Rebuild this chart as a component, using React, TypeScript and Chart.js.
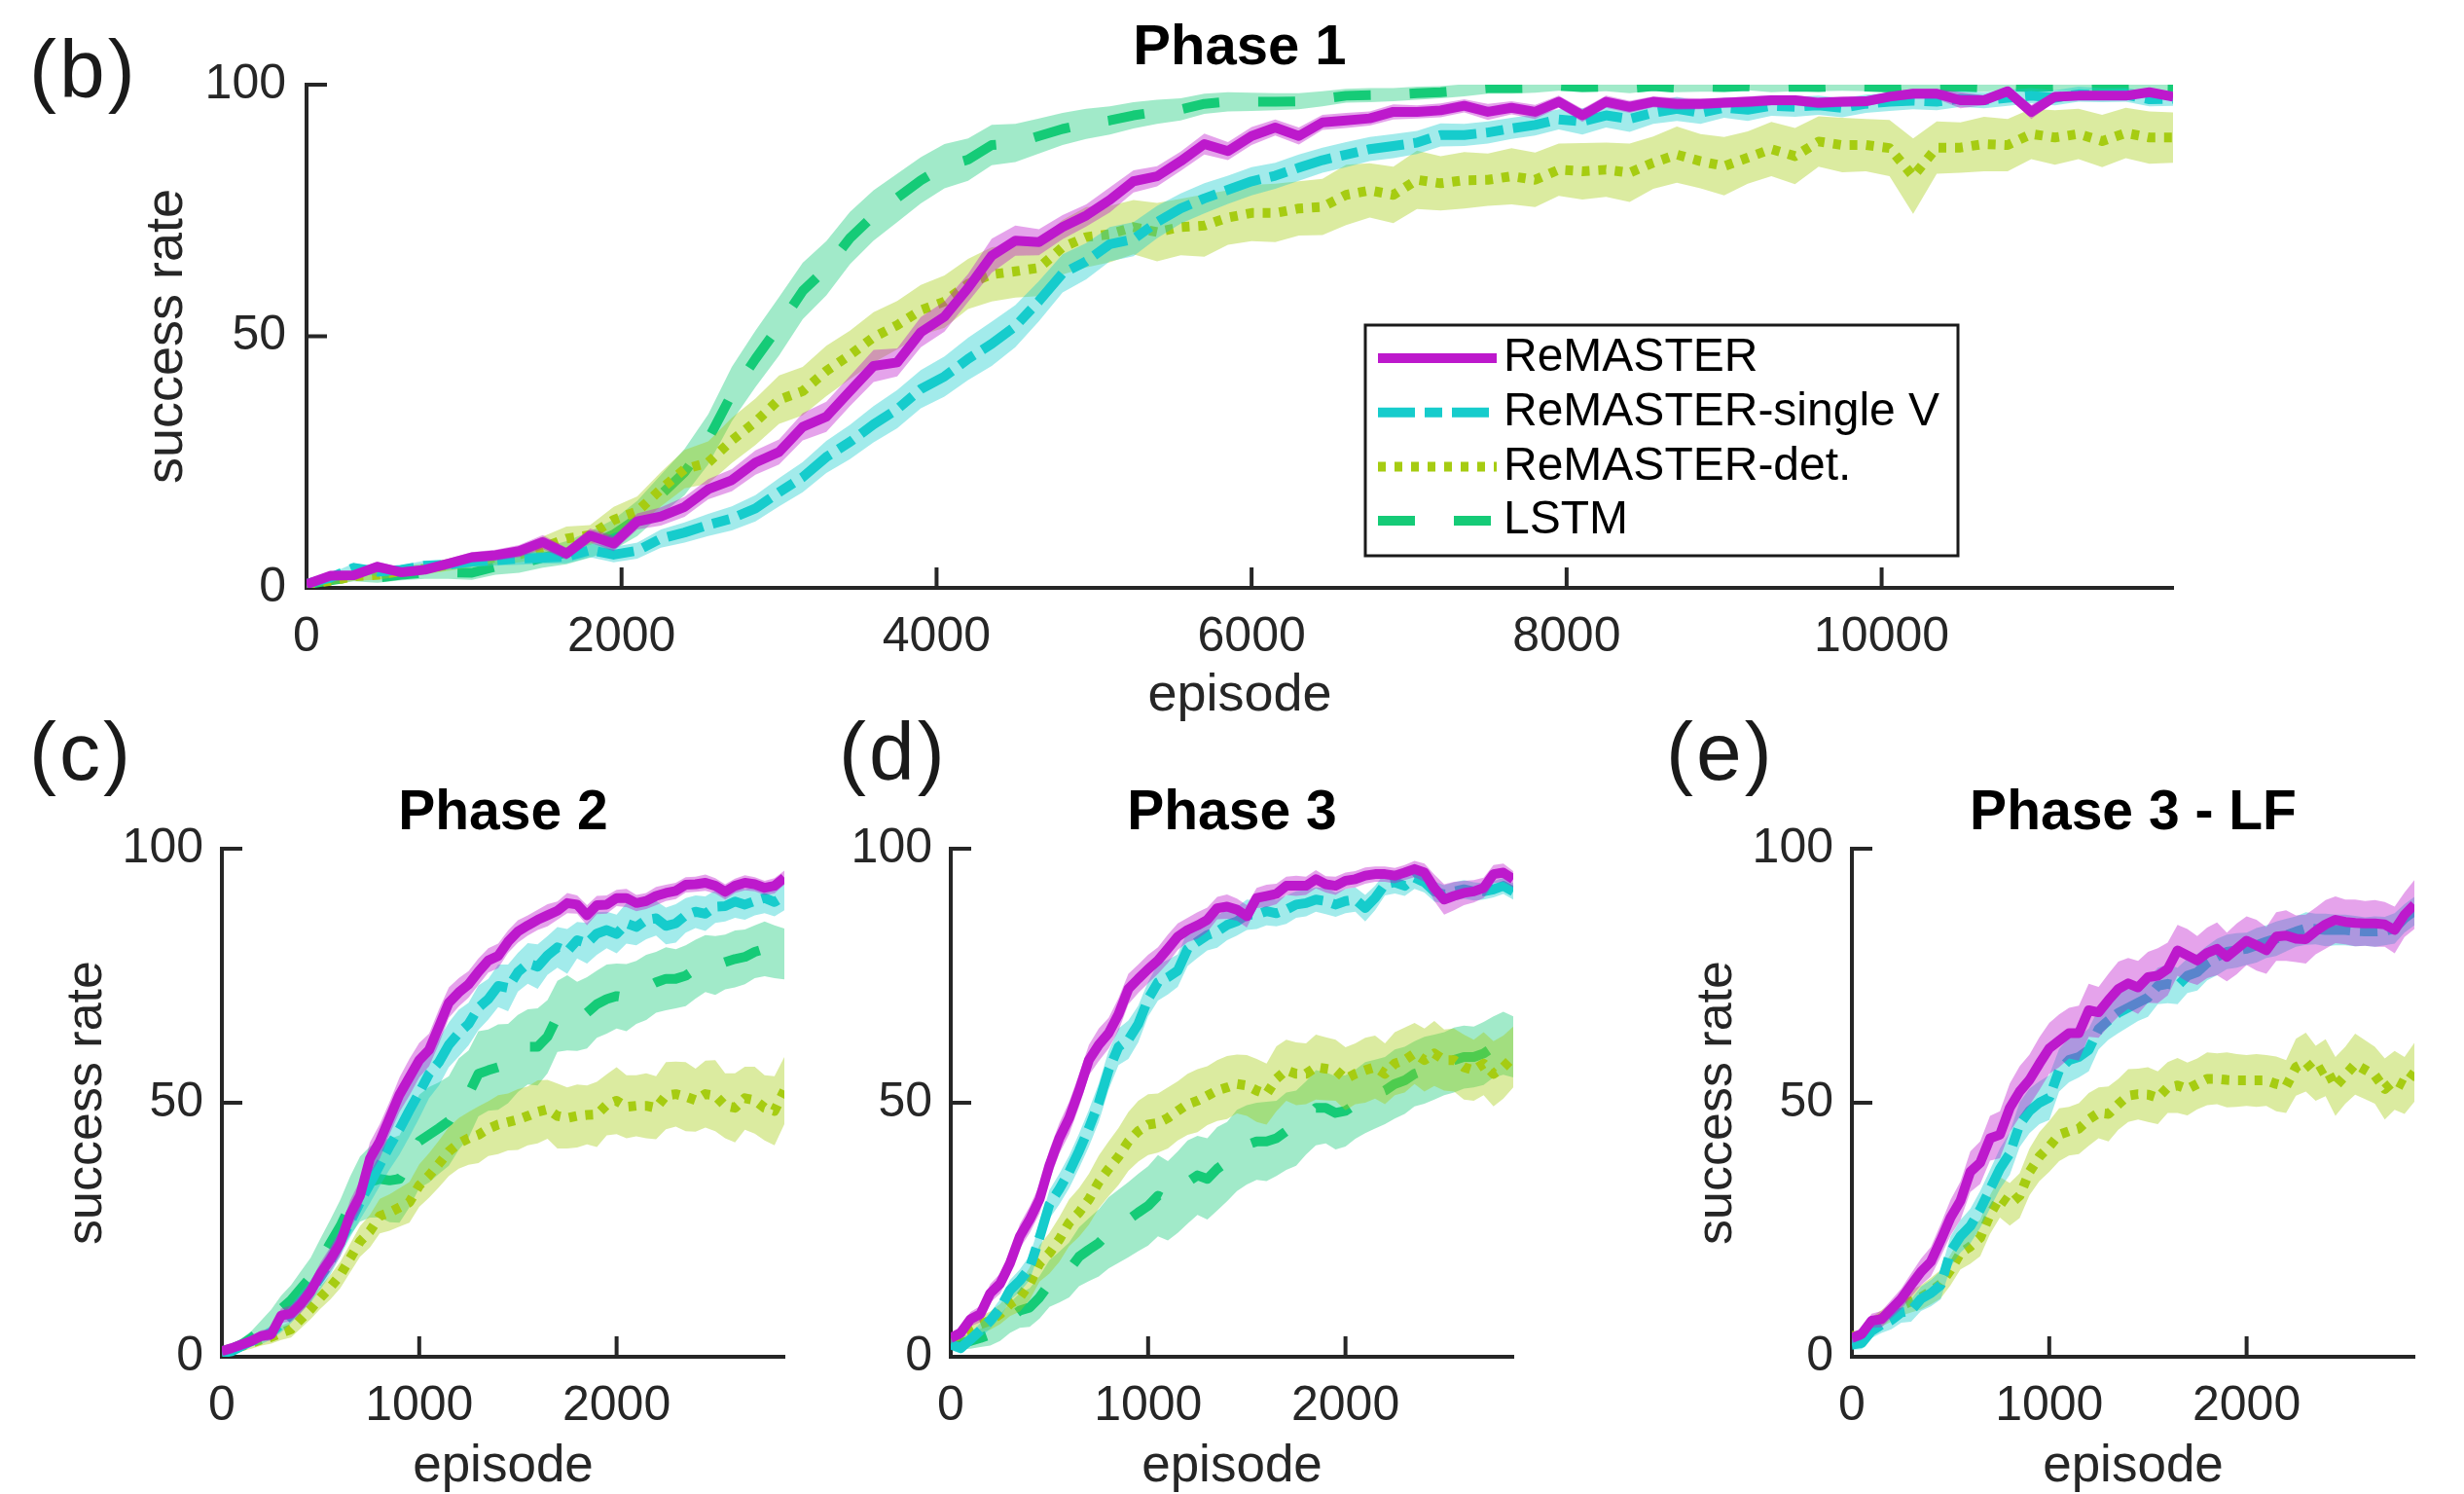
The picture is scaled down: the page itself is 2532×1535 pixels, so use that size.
import React, { useEffect, useRef } from 'react';
import { Chart, registerables } from 'chart.js';

Chart.register(...registerables);

const FONT_FAMILY = "'Liberation Sans', Arial, Helvetica, sans-serif";
const AXIS_COLOR = '#262626';
const TEXT_COLOR = '#000000';

const SERIES_LABELS = ['ReMASTER', 'ReMASTER-single V', 'ReMASTER-det.', 'LSTM'];
const SERIES_COLORS = ['#BD19CC', '#16CCCC', '#A6CC12', '#15CB77'];
const BAND_COLORS = [
  'rgba(189, 25, 204, 0.4)',
  'rgba(22, 204, 204, 0.4)',
  'rgba(166, 204, 18, 0.4)',
  'rgba(21, 203, 119, 0.4)',
];
const SERIES_DASHES = [[], [38, 10, 18, 10], [8, 9], [38, 40]];
const LINE_WIDTH = 10;

const Y_TICKS = [0, 50, 100];

// ---------------- Phase 1 (episodes 0..11850, every 150) ----------------
const P1_STEP = 150;
const P1_X_MAX = 11850;
const P1_X_TICKS = [0, 2000, 4000, 6000, 8000, 10000];

const P1_REMASTER = [
  0.7, 2.4, 2.5, 4.2, 3.1, 3.6, 4.8, 6.1, 6.5, 7.3,
  9.1, 6.8, 10.4, 8.8, 13.2, 14.2, 16.1, 19.6, 21.4, 24.9,
  27.0, 32.0, 34.0, 39.1, 44.1, 44.8, 50.8,
  53.9, 59.6, 66.0, 69.0, 68.7, 71.7, 74.0, 77.1, 80.8, 81.8,
  84.8, 88.2, 86.8, 89.8, 91.5, 89.8, 92.5, 92.9, 93.3, 94.6,
  94.6, 94.9, 95.8, 94.6, 95.4, 94.6, 96.6,
  93.9, 96.6, 95.6, 96.6, 96.2, 96.2, 96.4, 96.6, 96.9, 96.9,
  96.4, 96.6, 96.7, 97.6, 98.2, 98.2, 96.9, 96.9, 98.7, 94.6,
  97.6, 97.8, 97.8, 97.8, 98.5, 97.6,
];
const P1_REMASTER_BAND = [
  0.6, 0.7, 0.8, 1.0, 0.9, 0.9, 1.0, 1.0, 1.1, 1.2,
  1.4, 1.2, 1.4, 1.5, 1.6, 1.8, 2.0, 2.0, 2.2, 2.4,
  2.5, 2.7, 3.0, 3.0, 3.2, 2.8, 3.0,
  3.0, 2.8, 3.4, 3.0, 2.6, 2.4, 2.2, 2.5, 2.2, 2.0,
  1.9, 2.1, 1.8, 1.8, 1.6, 1.7, 1.5, 1.5, 1.4, 1.5,
  1.3, 1.4, 1.3, 1.6, 1.3, 1.4, 1.2,
  1.3, 1.2, 1.2, 1.1, 1.2, 1.1, 1.0, 1.1, 1.0, 1.0,
  1.1, 1.0, 1.0, 0.9, 1.0, 1.0, 1.6, 1.0, 0.9, 1.4,
  1.0, 0.9, 0.9, 0.9, 0.8, 0.9,
];
const P1_SINGLEV = [
  0.8, 2.0, 4.0, 3.2, 3.6, 4.4, 4.6, 5.2, 5.5, 5.8,
  6.0, 6.2, 7.5, 6.6, 7.4, 9.8, 11.0, 12.5, 13.8, 15.8,
  19.0, 22.0, 26.0, 29.0, 32.5, 35.5, 39.5,
  42.0, 45.5, 48.5, 52.0, 57.0, 62.5, 64.9, 68.3, 69.3, 72.7,
  75.4, 77.4, 79.1, 80.8, 81.9, 83.5, 85.0, 86.1, 87.2, 87.8,
  88.5, 90.0, 90.0, 90.5, 91.3, 92.0, 93.1,
  92.7, 93.9, 93.2, 94.4, 95.2, 94.4, 95.4, 95.0, 95.8, 95.6,
  95.9, 95.4, 96.2, 96.6, 96.8, 96.6, 97.2, 96.9, 97.4, 97.8,
  97.4, 98.1, 97.9, 98.0, 97.1, 97.2,
];
const P1_SINGLEV_BAND = [
  0.7, 0.8, 0.9, 0.9, 0.9, 1.0, 1.0, 1.1, 1.1, 1.2,
  1.2, 1.3, 1.4, 1.5, 1.6, 1.8, 2.0, 2.2, 2.4, 2.6,
  2.8, 3.0, 3.2, 3.4, 3.6, 3.8, 3.8,
  4.0, 4.2, 4.4, 4.2, 4.0, 3.8, 3.6, 3.4, 3.4, 3.2,
  3.0, 3.0, 2.8, 2.8, 2.6, 2.6, 2.5, 2.5, 2.4, 2.4,
  2.3, 2.3, 2.2, 2.2, 2.1, 2.1, 2.0,
  2.6, 2.4, 2.6, 2.2, 2.4, 2.2, 2.0, 2.2, 2.0, 2.0,
  1.9, 1.9, 1.8, 1.8, 1.7, 1.7, 1.6, 1.6, 1.6, 1.5,
  1.5, 1.5, 1.4, 1.4, 1.4, 1.4,
];
const P1_DET = [
  0.7, 1.4, 2.3, 2.6, 3.3, 3.8, 4.6, 5.4, 6.0, 6.6,
  8.0, 9.8, 10.5, 13.5, 15.2, 19.6, 23.6, 24.9, 29.3, 33.0,
  37.4, 39.1, 43.1, 46.3, 49.8, 52.2, 55.2,
  56.9, 60.4, 62.3, 62.9, 63.6, 67.7, 69.7, 70.3, 71.7, 70.7,
  71.7, 72.0, 73.6, 74.5, 74.5, 75.4, 75.7, 78.1, 79.0, 78.1,
  81.1, 80.4, 81.0, 81.1, 81.8, 81.1, 83.1,
  82.8, 83.1, 82.5, 84.5, 86.1, 84.8, 83.8, 85.5, 87.2, 85.8,
  88.7, 88.0, 88.0, 87.4, 81.8, 87.5, 87.5, 88.2, 88.0, 90.2,
  89.5, 90.2, 88.8, 90.4, 89.5, 89.5,
];
const P1_DET_BAND = [
  0.7, 0.8, 0.9, 1.0, 1.0, 1.1, 1.2, 1.3, 1.4, 1.5,
  2.2, 2.4, 2.0, 2.6, 3.0, 3.4, 3.8, 4.2, 4.5, 4.6,
  4.8, 4.8, 5.0, 4.8, 5.0, 4.8, 5.0,
  5.2, 5.0, 5.4, 5.2, 5.6, 5.4, 6.0, 5.6, 5.4, 5.8,
  5.6, 6.2, 5.4, 5.6, 5.8, 5.4, 5.6, 6.0, 5.4, 5.6,
  5.8, 5.4, 5.6, 5.2, 5.6, 5.4, 5.2,
  5.6, 5.4, 5.8, 5.2, 5.6, 5.4, 5.8, 5.2, 5.4, 5.6,
  5.0, 5.4, 5.2, 5.6, 7.5, 5.2, 5.0, 5.4, 5.2, 5.0,
  5.4, 5.0, 5.2, 5.0, 5.2, 5.0,
];
const P1_LSTM = [
  0.7, 1.5, 2.2, 2.0, 2.6, 3.0, 3.1, 3.0, 4.2, 4.8,
  6.0, 7.0, 8.6, 10.6, 13.8, 18.5, 23.0, 29.5, 38.5, 45.5,
  52.0, 59.0, 63.5, 69.5, 74.0, 77.5, 81.0,
  83.8, 85.1, 88.0, 88.4, 89.8, 91.2, 92.2, 92.9, 93.9, 94.6,
  95.1, 96.2, 96.6, 96.6, 96.6, 96.7, 97.2, 97.8, 97.9, 98.0,
  98.3, 98.5, 98.9, 99.3, 99.3, 99.4, 99.8,
  99.5, 99.6, 99.3, 99.7, 99.4, 99.6, 99.5, 99.7, 99.4, 99.6,
  99.5, 99.7, 99.6, 99.4, 99.7, 99.5, 99.6, 99.4, 99.7, 99.5,
  99.6, 99.4, 99.7, 99.5, 99.6, 99.5,
];
const P1_LSTM_BAND = [
  0.7, 0.8, 0.9, 1.0, 1.1, 1.2, 1.3, 1.4, 1.6, 1.8,
  2.0, 2.3, 2.6, 3.0, 3.5, 4.0, 4.6, 5.0, 5.4, 5.6,
  5.8, 5.6, 5.4, 5.2, 5.0, 4.8, 4.6,
  4.4, 4.2, 4.0, 3.8, 3.5, 3.2, 3.0, 2.8, 2.6, 2.4,
  2.2, 2.0, 1.9, 1.8, 1.7, 1.6, 1.5, 1.4, 1.4, 1.3,
  1.3, 1.2, 1.2, 1.1, 1.1, 1.0, 1.0,
  1.0, 0.9, 1.0, 0.9, 0.9, 1.0, 0.9, 0.8, 0.9, 0.9,
  0.8, 0.9, 0.9, 0.8, 0.9, 0.8, 0.9, 0.8, 0.8, 0.9,
  0.8, 0.8, 0.9, 0.8, 0.8, 0.8,
];

// ---------------- Phases 2, 3, 3-LF (episodes 0..2850, every 50) ----------------
const SHORT_STEP = 50;
const SHORT_X_MAX = 2850;
const SHORT_X_TICKS = [0, 1000, 2000];

const P2_REMASTER = [
  1.1, 1.7, 2.4, 3.1, 4.1, 4.4, 8.1, 8.5, 10.4, 12.9,
  16.4, 19.2, 22.4, 28.0, 31.7, 39.0, 42.4, 47.0, 51.6, 55.0,
  58.4, 60.4, 65.0, 69.7, 71.7, 73.3, 75.8, 78.0, 78.9, 81.7,
  83.7, 84.9, 86.0, 86.9, 87.8, 89.3, 89.0, 86.9, 88.9, 89.0,
  90.3, 90.3, 89.3, 89.7, 90.7, 91.3, 91.7, 92.9, 93.0, 93.3,
  92.7, 91.5, 92.7, 93.3, 93.0, 92.3, 92.7, 94.3,
];
const P2_REMASTER_BAND = [
  0.8, 0.9, 1.0, 1.0, 1.1, 1.2, 1.4, 1.6, 1.8, 2.0,
  2.2, 2.4, 2.6, 2.8, 3.0, 3.2, 3.4, 3.2, 3.4, 3.6,
  3.4, 3.2, 3.4, 3.0, 2.8, 2.6, 2.6, 2.4, 2.4, 2.2,
  2.2, 2.0, 2.0, 2.2, 1.8, 2.0, 1.8, 2.0, 1.8, 1.8,
  1.6, 1.8, 1.6, 1.6, 1.8, 1.6, 1.6, 1.5, 1.5, 1.6,
  1.5, 1.5, 1.4, 1.5, 1.4, 1.4, 1.5, 1.4,
];
const P2_SINGLEV = [
  0.7, 1.1, 2.1, 3.1, 3.7, 4.8, 6.4, 8.4, 10.7, 12.9,
  15.7, 18.8, 22.6, 26.5, 30.4, 34.0, 37.8, 41.5, 44.8, 48.5,
  52.0, 55.7, 58.0, 61.4, 63.7, 65.5, 68.7, 70.4, 73.0, 72.6,
  75.7, 77.4, 76.8, 79.0, 80.6, 79.8, 82.0, 81.4, 83.3, 84.0,
  83.2, 85.3, 84.6, 86.0, 86.3, 84.8, 85.3, 86.9, 87.6, 87.2,
  88.6, 88.7, 89.6, 89.0, 89.7, 90.3, 89.5, 90.7,
];
const P2_SINGLEV_BAND = [
  0.8, 0.9, 1.0, 1.1, 1.2, 1.4, 1.6, 1.8, 2.0, 2.2,
  2.4, 2.6, 2.8, 3.0, 3.4, 3.8, 4.2, 4.6, 5.0, 5.2,
  5.0, 4.8, 4.6, 4.4, 4.6, 4.2, 4.4, 4.0, 4.2, 4.6,
  3.8, 4.0, 4.4, 3.8, 4.0, 4.4, 3.6, 4.0, 4.2, 3.6,
  3.8, 4.0, 3.6, 3.8, 3.4, 3.6, 3.8, 3.4, 3.2, 3.4,
  3.2, 3.0, 3.2, 3.0, 2.8, 3.0, 2.8, 2.8,
];
const P2_DET = [
  1.1, 1.4, 2.1, 2.7, 3.4, 3.9, 4.7, 5.4, 7.4, 9.4,
  11.7, 13.7, 16.1, 19.4, 22.7, 24.7, 27.7, 28.4, 29.4, 30.4,
  33.7, 35.7, 38.0, 40.4, 42.0, 43.0, 43.7, 44.9, 45.7, 46.2,
  46.7, 47.4, 48.2, 48.7, 47.4, 47.0, 47.4, 47.6, 47.7, 49.6,
  50.4, 49.2, 49.4, 49.4, 49.0, 51.4, 51.7, 51.2, 50.5, 51.7,
  51.4, 49.4, 49.0, 50.9, 50.5, 49.0, 48.4, 52.4,
];
const P2_DET_BAND = [
  0.8, 0.9, 1.0, 1.1, 1.2, 1.3, 1.4, 1.6, 1.8, 2.0,
  2.2, 2.4, 2.6, 2.8, 3.0, 3.2, 3.4, 3.6, 3.8, 4.0,
  4.2, 4.4, 4.6, 4.8, 5.0, 5.2, 5.6, 5.4, 5.8, 5.6,
  6.0, 5.8, 6.2, 5.8, 6.4, 6.0, 6.2, 5.8, 6.4, 6.0,
  6.6, 6.2, 6.0, 6.4, 6.2, 6.6, 6.4, 6.8, 6.2, 6.6,
  7.0, 6.4, 6.8, 6.2, 6.6, 6.4, 6.8, 6.6,
];
const P2_LSTM = [
  1.1, 1.6, 2.4, 3.7, 5.4, 7.1, 9.4, 11.1, 13.4, 15.7,
  19.1, 22.4, 25.7, 29.7, 33.0, 34.4, 35.0, 34.7, 35.0, 38.4,
  42.4, 43.7, 45.0, 46.4, 49.7, 51.7, 55.7, 56.4, 57.0, 57.7,
  59.7, 61.0, 61.0, 63.0, 67.0, 67.7, 67.0, 67.7, 69.4, 70.4,
  71.0, 70.7, 71.7, 72.7, 73.7, 74.4, 74.4, 75.0, 76.3, 77.4,
  77.0, 77.7, 78.3, 78.7, 79.7, 80.3, 79.7, 79.3,
];
const P2_LSTM_BAND = [
  0.8, 1.0, 1.2, 1.4, 1.8, 2.2, 2.6, 3.0, 3.4, 3.8,
  4.2, 4.6, 5.2, 5.8, 6.4, 7.0, 7.6, 8.2, 8.6, 9.0,
  9.2, 9.4, 9.0, 8.8, 9.0, 8.6, 8.4, 8.0, 8.4, 7.8,
  7.6, 7.4, 7.6, 7.2, 7.0, 7.4, 6.8, 7.0, 6.6, 6.8,
  6.4, 6.6, 6.2, 6.4, 6.0, 6.2, 5.8, 6.0, 5.8, 5.6,
  5.8, 5.4, 5.6, 5.4, 5.2, 5.4, 5.2, 5.0,
];

const P3_REMASTER = [
  3.7, 4.7, 7.4, 8.4, 12.5, 14.4, 18.4, 23.7, 27.0, 31.0,
  37.7, 43.0, 47.0, 52.4, 58.4, 61.4, 63.7, 67.4, 72.4, 74.4,
  76.3, 78.0, 80.3, 82.7, 84.0, 84.9, 86.0, 88.3, 88.6, 88.0,
  86.7, 90.3, 90.7, 91.1, 92.7, 92.7, 92.7, 94.0, 93.0, 92.7,
  93.7, 94.0, 94.7, 95.0, 95.0, 94.7, 95.3, 96.0, 95.3, 92.3,
  90.0, 90.7, 91.3, 91.6, 92.3, 95.0, 95.3, 94.0,
];
const P3_REMASTER_BAND = [
  1.0, 1.2, 1.4, 1.6, 1.8, 2.0, 2.2, 2.4, 2.6, 2.8,
  3.0, 3.0, 3.2, 3.2, 3.0, 3.2, 3.0, 3.2, 3.0, 2.8,
  2.8, 2.6, 2.8, 2.6, 2.4, 2.6, 2.4, 2.2, 2.4, 2.2,
  2.2, 2.0, 2.2, 2.0, 1.8, 2.0, 1.8, 1.8, 1.6, 1.8,
  1.6, 1.6, 1.6, 1.5, 1.5, 1.5, 1.5, 1.6, 1.8, 2.6,
  3.0, 2.8, 2.4, 2.2, 2.0, 1.8, 1.8, 1.6,
];
const P3_SINGLEV = [
  2.4, 1.7, 3.4, 5.2, 7.1, 9.5, 13.1, 15.0, 17.5, 23.5,
  30.0, 33.0, 36.4, 40.5, 45.0, 50.0, 56.4, 61.0, 62.4, 65.5,
  70.4, 73.7, 74.7, 76.0, 80.3, 81.7, 83.0, 83.7, 85.0, 85.7,
  87.0, 87.0, 87.7, 87.3, 88.0, 89.0, 89.3, 90.0, 89.7, 89.0,
  89.7, 90.0, 88.3, 90.3, 93.0, 93.4, 92.7, 94.3, 93.4, 91.6,
  91.0, 91.6, 92.0, 91.6, 91.6, 92.0, 92.7, 91.6,
];
const P3_SINGLEV_BAND = [
  1.0, 1.1, 1.2, 1.4, 1.6, 1.8, 2.0, 2.2, 2.4, 2.6,
  2.8, 3.0, 3.2, 3.4, 3.6, 3.8, 3.8, 3.6, 3.8, 3.6,
  3.4, 3.6, 3.4, 3.2, 3.4, 3.2, 3.0, 3.2, 3.0, 2.8,
  3.0, 2.8, 2.8, 2.6, 2.8, 2.6, 2.6, 2.4, 2.6, 2.4,
  2.4, 2.4, 2.6, 2.4, 2.2, 2.2, 2.0, 2.2, 2.0, 2.0,
  1.8, 1.8, 1.8, 1.8, 1.6, 1.6, 1.6, 1.6,
];
const P3_DET = [
  3.7, 4.3, 5.4, 6.4, 7.1, 8.4, 10.4, 11.7, 14.4, 18.4,
  20.4, 23.1, 26.4, 28.4, 31.0, 34.4, 37.0, 39.4, 42.4, 44.4,
  45.7, 46.0, 47.0, 48.4, 49.7, 50.4, 51.4, 52.4, 53.0, 53.7,
  53.4, 52.4, 51.7, 54.7, 56.4, 55.7, 55.7, 57.0, 56.7, 56.4,
  54.7, 55.7, 56.4, 57.0, 55.7, 57.7, 58.4, 59.7, 58.4, 59.7,
  58.4, 58.4, 57.0, 56.4, 57.7, 55.7, 57.0, 59.0,
];
const P3_DET_BAND = [
  1.0, 1.2, 1.4, 1.6, 1.8, 2.0, 2.4, 2.8, 3.2, 3.6,
  4.0, 4.4, 4.6, 4.8, 5.0, 5.2, 5.4, 5.6, 5.8, 6.0,
  6.0, 5.8, 6.0, 5.8, 6.0, 6.2, 5.8, 6.0, 6.2, 5.8,
  6.0, 6.2, 6.0, 6.4, 6.0, 6.2, 6.0, 6.4, 6.2, 6.0,
  6.2, 6.0, 6.4, 6.2, 6.0, 6.2, 6.4, 6.0, 6.2, 6.4,
  6.0, 6.2, 6.4, 6.0, 6.2, 6.4, 6.2, 6.0,
];
const P3_LSTM = [
  3.1, 2.7, 3.1, 3.7, 4.4, 5.7, 7.7, 9.1, 9.7, 11.7,
  14.4, 15.7, 17.1, 19.7, 21.1, 22.4, 24.4, 25.7, 27.0, 28.4,
  29.7, 31.7, 30.7, 32.4, 34.4, 35.7, 35.0, 37.0, 38.4, 40.6,
  41.7, 42.4, 42.4, 43.0, 44.4, 45.0, 47.0, 49.0, 49.0, 48.0,
  48.4, 49.7, 51.0, 51.7, 52.4, 53.7, 54.4, 55.7, 56.4, 57.0,
  57.7, 58.4, 59.0, 59.0, 59.7, 61.0, 61.7, 61.0,
];
const P3_LSTM_BAND = [
  1.0, 1.2, 1.5, 1.8, 2.2, 2.6, 3.0, 3.4, 3.8, 4.2,
  4.6, 5.0, 5.4, 5.8, 6.2, 6.6, 7.0, 7.2, 7.4, 7.6,
  7.8, 8.0, 7.8, 8.0, 8.2, 7.8, 8.0, 8.2, 7.8, 8.0,
  7.8, 7.6, 7.8, 7.4, 7.6, 7.4, 7.2, 7.4, 7.0, 7.2,
  7.0, 6.8, 7.0, 6.8, 6.6, 6.8, 6.6, 6.4, 6.6, 6.4,
  6.2, 6.4, 6.2, 6.0, 6.2, 6.0, 6.2, 6.0,
];

const P4_REMASTER = [
  3.7, 4.5, 7.1, 7.4, 9.4, 11.4, 14.1, 16.7, 18.7, 22.9,
  27.4, 30.7, 36.4, 38.2, 43.0, 43.7, 49.0, 52.2, 54.5, 57.7,
  60.7, 62.2, 63.7, 63.7, 68.2, 67.8, 70.2, 72.4, 73.5, 72.7,
  74.7, 75.0, 76.3, 80.0, 79.0, 78.0, 79.5, 80.3, 78.7, 80.3,
  81.9, 81.0, 80.0, 82.7, 82.9, 82.3, 82.2, 83.8, 85.1, 86.0,
  85.6, 85.4, 85.3, 85.3, 85.1, 84.0, 87.0, 89.0,
];
const P4_REMASTER_BAND = [
  1.0, 1.2, 1.4, 1.6, 1.8, 2.0, 2.3, 2.6, 2.9, 3.2,
  3.5, 3.8, 4.0, 4.2, 4.4, 4.6, 4.8, 5.0, 5.0, 5.2,
  5.0, 5.2, 5.0, 5.4, 5.2, 5.0, 5.2, 5.4, 5.0, 5.2,
  5.0, 5.4, 5.2, 5.0, 5.2, 4.8, 5.0, 5.2, 4.8, 5.0,
  4.8, 5.0, 4.6, 4.8, 5.0, 4.6, 4.8, 4.6, 4.8, 4.6,
  4.4, 4.6, 4.4, 4.6, 4.4, 4.6, 4.4, 4.8,
];
const P4_SINGLEV = [
  2.4, 2.7, 5.1, 6.3, 7.2, 8.7, 9.1, 11.4, 12.5, 14.1,
  20.7, 23.7, 25.7, 29.0, 33.0, 37.0, 40.0, 45.7, 48.4, 50.0,
  51.0, 56.4, 58.4, 59.0, 60.4, 64.5, 66.2, 67.7, 68.7, 69.7,
  70.7, 73.0, 73.4, 73.0, 75.0, 75.7, 77.5, 78.7, 79.7, 80.0,
  80.3, 81.0, 81.7, 82.3, 83.0, 83.7, 84.3, 84.2, 84.0, 84.0,
  84.0, 83.8, 83.7, 83.7, 83.8, 84.3, 86.3, 87.7,
];
const P4_SINGLEV_BAND = [
  1.0, 1.2, 1.4, 1.6, 1.8, 2.0, 2.2, 2.4, 2.6, 2.8,
  3.0, 3.2, 3.4, 3.6, 3.8, 4.0, 4.2, 4.4, 4.4, 4.2,
  4.4, 4.2, 4.4, 4.0, 4.2, 4.0, 3.8, 4.0, 3.8, 3.6,
  3.8, 3.6, 3.8, 3.6, 3.4, 3.6, 3.4, 3.6, 3.4, 3.4,
  3.2, 3.4, 3.2, 3.4, 3.2, 3.0, 3.2, 3.0, 3.2, 3.0,
  3.0, 3.0, 2.8, 3.0, 2.8, 3.0, 2.8, 2.8,
];
const P4_DET = [
  4.1, 3.9, 6.4, 7.6, 8.7, 10.1, 10.9, 11.7, 12.9, 14.3,
  17.1, 20.4, 21.7, 23.4, 28.0, 31.4, 30.0, 31.7, 36.4, 39.4,
  41.4, 43.7, 44.4, 44.9, 46.7, 48.0, 47.8, 49.7, 51.4, 51.7,
  51.6, 51.0, 53.0, 53.4, 52.7, 53.7, 54.7, 54.7, 54.5, 54.4,
  54.4, 54.4, 54.4, 53.7, 53.2, 57.0, 58.0, 55.8, 56.9, 53.2,
  55.4, 57.6, 56.5, 55.4, 52.7, 54.4, 53.4, 56.0,
];
const P4_DET_BAND = [
  1.0, 1.2, 1.4, 1.6, 1.8, 2.0, 2.2, 2.4, 2.6, 2.8,
  3.0, 3.2, 3.4, 3.6, 3.8, 4.0, 4.2, 4.4, 4.6, 4.8,
  5.0, 5.2, 4.8, 5.0, 5.2, 5.0, 5.4, 5.0, 5.2, 5.0,
  5.4, 5.2, 5.0, 5.4, 5.2, 5.0, 5.2, 5.0, 5.4, 5.2,
  5.0, 5.2, 5.0, 5.4, 5.2, 5.6, 5.8, 5.4, 5.6, 5.8,
  5.6, 6.0, 5.8, 5.6, 6.0, 5.8, 5.6, 5.8,
];

// ---------------- plugins ----------------
const TICK_LEN = 21;

const inwardTicksPlugin = {
  id: 'inwardTicks',
  beforeDatasetsDraw(chart: any) {
    const { ctx, chartArea, scales } = chart;
    ctx.save();
    ctx.strokeStyle = AXIS_COLOR;
    ctx.lineWidth = 4;
    ctx.lineCap = 'butt';
    ctx.beginPath();
    for (const t of scales.x.ticks) {
      const px = scales.x.getPixelForValue(t.value);
      if (px - chartArea.left < 3) continue;
      ctx.moveTo(px, chartArea.bottom);
      ctx.lineTo(px, chartArea.bottom - TICK_LEN);
    }
    for (const t of scales.y.ticks) {
      const py = scales.y.getPixelForValue(t.value);
      if (chartArea.bottom - py < 3) continue;
      ctx.moveTo(chartArea.left, py);
      ctx.lineTo(chartArea.left + TICK_LEN, py);
    }
    ctx.stroke();
    ctx.restore();
  },
};

const boxLegendPlugin = {
  id: 'boxLegend',
  afterDraw(chart: any) {
    const { ctx, chartArea } = chart;
    const left = chartArea.left + 1088;
    const top = chartArea.top + 247;
    const w = 609;
    const h = 237;
    ctx.save();
    ctx.fillStyle = '#ffffff';
    ctx.fillRect(left, top, w, h);
    ctx.strokeStyle = '#1a1a1a';
    ctx.lineWidth = 3;
    ctx.setLineDash([]);
    ctx.strokeRect(left, top, w, h);
    SERIES_LABELS.forEach((label, i) => {
      const y = top + 34 + i * 55.7;
      ctx.strokeStyle = SERIES_COLORS[i];
      ctx.lineWidth = LINE_WIDTH;
      ctx.lineCap = 'butt';
      ctx.setLineDash(SERIES_DASHES[i]);
      ctx.beginPath();
      ctx.moveTo(left + 13, y);
      ctx.lineTo(left + 135, y);
      ctx.stroke();
      ctx.setLineDash([]);
      ctx.fillStyle = TEXT_COLOR;
      ctx.font = `48px ${FONT_FAMILY}`;
      ctx.textBaseline = 'middle';
      ctx.textAlign = 'left';
      ctx.fillText(label, left + 142, y);
    });
    ctx.restore();
  },
};

// ---------------- panel specs ----------------
type SeriesSpec = { idx: number; mean: number[]; band: number[] };

const P1_SERIES: SeriesSpec[] = [
  { idx: 0, mean: P1_REMASTER, band: P1_REMASTER_BAND },
  { idx: 1, mean: P1_SINGLEV, band: P1_SINGLEV_BAND },
  { idx: 2, mean: P1_DET, band: P1_DET_BAND },
  { idx: 3, mean: P1_LSTM, band: P1_LSTM_BAND },
];
const P2_SERIES: SeriesSpec[] = [
  { idx: 0, mean: P2_REMASTER, band: P2_REMASTER_BAND },
  { idx: 1, mean: P2_SINGLEV, band: P2_SINGLEV_BAND },
  { idx: 2, mean: P2_DET, band: P2_DET_BAND },
  { idx: 3, mean: P2_LSTM, band: P2_LSTM_BAND },
];
const P3_SERIES: SeriesSpec[] = [
  { idx: 0, mean: P3_REMASTER, band: P3_REMASTER_BAND },
  { idx: 1, mean: P3_SINGLEV, band: P3_SINGLEV_BAND },
  { idx: 2, mean: P3_DET, band: P3_DET_BAND },
  { idx: 3, mean: P3_LSTM, band: P3_LSTM_BAND },
];
const P4_SERIES: SeriesSpec[] = [
  { idx: 0, mean: P4_REMASTER, band: P4_REMASTER_BAND },
  { idx: 1, mean: P4_SINGLEV, band: P4_SINGLEV_BAND },
  { idx: 2, mean: P4_DET, band: P4_DET_BAND },
];

const BOTTOM_COMMON = {
  top: 760, width: 816, height: 780,
  titleSize: 57, titlePadTop: 42.3, titlePadBottom: 1.3,
  yScaleWidth: 198, xScaleHeight: 146, padRight: 40,
  yTitleSize: 52, yTitlePadTop: 28.3,
  xTitleSize: 53, xTitlePadBottom: 1.2,
  yTickPad: 19, xTickPad: 21,
  xMax: SHORT_X_MAX, xTicks: SHORT_X_TICKS, step: SHORT_STEP,
  legend: false,
};

const PANELS = [
  {
    id: 'p1', left: 100, top: 0, width: 2193, height: 760,
    title: 'Phase 1', titleSize: 58, titlePadTop: 15.2, titlePadBottom: 2.2,
    yScaleWidth: 215, xScaleHeight: 156, padRight: 60,
    yTitle: true, yTitleSize: 54, yTitlePadTop: 40.2,
    xTitleSize: 54, xTitlePadBottom: 12,
    yTickPad: 21, xTickPad: 21,
    xMax: P1_X_MAX, xTicks: P1_X_TICKS, step: P1_STEP,
    series: P1_SERIES, legend: true,
  },
  { ...BOTTOM_COMMON, id: 'p2', left: 30, title: 'Phase 2', yTitle: true, series: P2_SERIES },
  { ...BOTTOM_COMMON, id: 'p3', left: 779, title: 'Phase 3', yTitle: false, series: P3_SERIES },
  { ...BOTTOM_COMMON, id: 'p4', left: 1705, title: 'Phase 3 - LF', yTitle: true, series: P4_SERIES },
];

const PANEL_LABELS = [
  { text: '(b)', left: 30, top: 28.5 },
  { text: '(c)', left: 30, top: 729.5 },
  { text: '(d)', left: 862, top: 729.5 },
  { text: '(e)', left: 1712, top: 729.5 },
];

function makeConfig(spec: any) {
  const xs = spec.series[0].mean.map((_: number, i: number) => i * spec.step);
  const datasets: any[] = [];
  spec.series.forEach((s: SeriesSpec) => {
    datasets.push({
      label: SERIES_LABELS[s.idx],
      data: xs.map((x: number, i: number) => ({ x, y: s.mean[i] })),
      borderColor: SERIES_COLORS[s.idx],
      borderWidth: LINE_WIDTH,
      borderDash: SERIES_DASHES[s.idx],
      borderCapStyle: 'butt',
      borderJoinStyle: 'round',
      pointRadius: 0,
      fill: false,
      tension: 0,
    });
    datasets.push({
      label: SERIES_LABELS[s.idx] + ' upper',
      data: xs.map((x: number, i: number) => ({ x, y: s.mean[i] + s.band[i] })),
      borderColor: 'rgba(0,0,0,0)',
      borderWidth: 0,
      pointRadius: 0,
      fill: false,
      tension: 0,
    });
    datasets.push({
      label: SERIES_LABELS[s.idx] + ' lower',
      data: xs.map((x: number, i: number) => ({ x, y: s.mean[i] - s.band[i] })),
      borderColor: 'rgba(0,0,0,0)',
      backgroundColor: BAND_COLORS[s.idx],
      borderWidth: 0,
      pointRadius: 0,
      fill: '-1',
      tension: 0,
    });
  });

  const tickFont = { family: FONT_FAMILY, size: 50 };

  return {
    type: 'line',
    data: { datasets },
    plugins: spec.legend ? [inwardTicksPlugin, boxLegendPlugin] : [inwardTicksPlugin],
    options: {
      animation: false,
      responsive: false,
      maintainAspectRatio: false,
      devicePixelRatio: 1,
      events: [],
      layout: { padding: { left: 0, right: spec.padRight, top: 0, bottom: 0 } },
      plugins: {
        legend: { display: false },
        tooltip: { enabled: false },
        title: {
          display: true,
          text: spec.title,
          fullSize: false,
          color: TEXT_COLOR,
          font: { family: FONT_FAMILY, size: spec.titleSize, weight: 'bold' },
          padding: { top: spec.titlePadTop, bottom: spec.titlePadBottom },
        },
      },
      scales: {
        x: {
          type: 'linear',
          min: 0,
          max: spec.xMax,
          afterBuildTicks: (scale: any) => {
            scale.ticks = spec.xTicks.map((v: number) => ({ value: v }));
          },
          afterFit: (scale: any) => {
            scale.height = spec.xScaleHeight;
          },
          ticks: {
            callback: (v: any) => String(v),
            font: tickFont,
            color: AXIS_COLOR,
            padding: spec.xTickPad,
            maxRotation: 0,
            minRotation: 0,
            autoSkip: false,
            includeBounds: false,
          },
          grid: { display: true, drawOnChartArea: false, drawTicks: false },
          border: { display: true, color: AXIS_COLOR, width: 4 },
          title: {
            display: true,
            text: 'episode',
            color: AXIS_COLOR,
            font: { family: FONT_FAMILY, size: spec.xTitleSize },
            padding: { top: 0, bottom: spec.xTitlePadBottom },
          },
        },
        y: {
          type: 'linear',
          min: 0,
          max: 100,
          afterBuildTicks: (scale: any) => {
            scale.ticks = Y_TICKS.map((v) => ({ value: v }));
          },
          afterFit: (scale: any) => {
            scale.width = spec.yScaleWidth;
          },
          ticks: {
            callback: (v: any) => String(v),
            font: tickFont,
            color: AXIS_COLOR,
            padding: spec.yTickPad,
            autoSkip: false,
            includeBounds: false,
          },
          grid: { display: true, drawOnChartArea: false, drawTicks: false },
          border: { display: true, color: AXIS_COLOR, width: 4 },
          title: {
            display: spec.yTitle,
            text: 'success rate',
            color: AXIS_COLOR,
            font: { family: FONT_FAMILY, size: spec.yTitleSize },
            padding: { top: spec.yTitlePadTop, bottom: 0 },
          },
        },
      },
    },
  };
}

function PanelChart({ spec }: { spec: any }) {
  const ref = useRef<HTMLCanvasElement | null>(null);
  useEffect(() => {
    if (!ref.current) return;
    const chart = new Chart(ref.current, makeConfig(spec) as any);
    return () => chart.destroy();
  }, [spec]);
  return (
    <canvas
      ref={ref}
      width={spec.width}
      height={spec.height}
      style={{
        position: 'absolute',
        left: spec.left,
        top: spec.top,
        width: spec.width,
        height: spec.height,
        display: 'block',
      }}
    />
  );
}

export default function App() {
  return (
    <div
      style={{
        position: 'absolute',
        left: 0,
        top: 0,
        width: 2532,
        height: 1535,
        background: '#ffffff',
        overflow: 'hidden',
      }}
    >
      {PANELS.map((p) => (
        <PanelChart key={p.id} spec={p} />
      ))}
      {PANEL_LABELS.map((l) => (
        <div
          key={l.text}
          style={{
            position: 'absolute',
            left: l.left,
            top: l.top,
            fontFamily: FONT_FAMILY,
            fontSize: 84,
            lineHeight: 1,
            letterSpacing: 3,
            color: '#1a1a1a',
            whiteSpace: 'nowrap',
          }}
        >
          {l.text}
        </div>
      ))}
    </div>
  );
}
